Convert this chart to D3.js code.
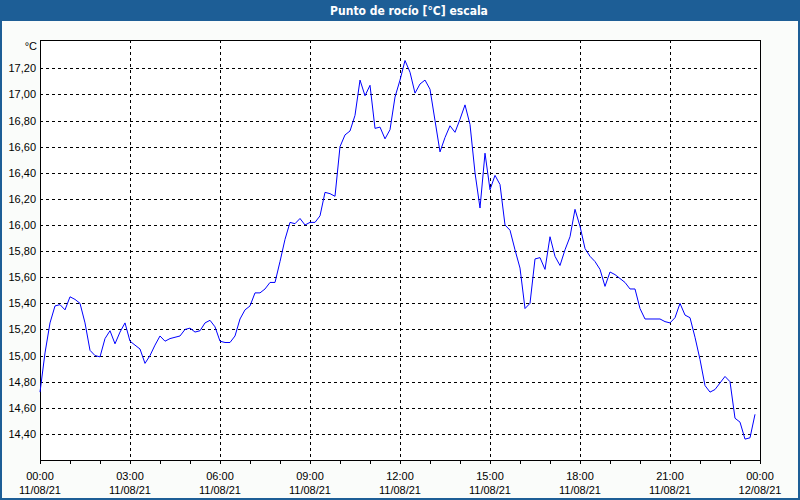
<!DOCTYPE html>
<html>
<head>
<meta charset="utf-8">
<script src="https://cdn.jsdelivr.net/npm/d3@7"></script>
<style>
  html, body { margin: 0; padding: 0; background: #fafcfa; }
  svg { display: block; }
</style>
</head>
<body>
<svg id="chart" width="800" height="500"></svg>
<script>
// ---- data ----
const title = "Punto de rocío [°C] escala";
const unitLabel = "°C";
const startMinute = 0;        // 00:00 11/08/21
const stepMinutes = 10;       // one reading every 10 minutes
const dewPoint = [
  14.72, 15.02, 15.25, 15.38, 15.39, 15.35, 15.45, 15.43, 15.40, 15.25,
  15.04, 15.00, 14.99, 15.13, 15.19, 15.09, 15.18, 15.25, 15.11, 15.08,
  15.05, 14.94, 15.00, 15.08, 15.15, 15.11, 15.13, 15.14, 15.15, 15.20,
  15.21, 15.18, 15.19, 15.25, 15.27, 15.22, 15.11, 15.10, 15.10, 15.15,
  15.28, 15.35, 15.38, 15.48, 15.48, 15.51, 15.56, 15.56, 15.72, 15.89,
  16.02, 16.01, 16.05, 16.00, 16.02, 16.02, 16.07, 16.25, 16.24, 16.22,
  16.60, 16.69, 16.72, 16.84, 17.11, 16.99, 17.07, 16.74, 16.75, 16.66,
  16.73, 16.98, 17.11, 17.26, 17.17, 17.01, 17.08, 17.11, 17.04, 16.80,
  16.56, 16.67, 16.76, 16.71, 16.81, 16.92, 16.77, 16.40, 16.13, 16.55,
  16.27, 16.38, 16.31, 16.00, 15.96, 15.81, 15.67, 15.36, 15.40, 15.74,
  15.75, 15.66, 15.91, 15.76, 15.69, 15.81, 15.91, 16.12, 15.99, 15.82,
  15.76, 15.72, 15.66, 15.53, 15.64, 15.62, 15.59, 15.56, 15.51, 15.51,
  15.36, 15.28, 15.28, 15.28, 15.28, 15.26, 15.25, 15.29, 15.40, 15.31,
  15.29, 15.14, 14.97, 14.77, 14.72, 14.74, 14.79, 14.84, 14.80, 14.52,
  14.49, 14.36, 14.37, 14.55
];
const yTicks = [14.4, 14.6, 14.8, 15.0, 15.2, 15.4, 15.6, 15.8, 16.0, 16.2, 16.4, 16.6, 16.8, 17.0, 17.2];
const xTickMinutes = [0, 180, 360, 540, 720, 900, 1080, 1260, 1440];
const xTickTimes = ["00:00", "03:00", "06:00", "09:00", "12:00", "15:00", "18:00", "21:00", "00:00"];
const xTickDates = ["11/08/21", "11/08/21", "11/08/21", "11/08/21", "11/08/21", "11/08/21", "11/08/21", "11/08/21", "12/08/21"];
const xMinorMinutes = d3.range(0, 1441, 60);
const yDomain = [14.2, 17.417];

// ---- layout ----
const W = 800, H = 500;
const plot = { left: 40, right: 760, top: 40, bottom: 460 };
const font = "'Liberation Sans', Arial, sans-serif";

const svg = d3.select("#chart");

// background + frame
svg.append("rect").attr("x", 0).attr("y", 0).attr("width", W).attr("height", H).attr("fill", "#fafcfa");
svg.append("rect").attr("x", 1).attr("y", 1).attr("width", W - 2).attr("height", H - 2)
  .attr("fill", "none").attr("stroke", "#1d5e96").attr("stroke-width", 2);
// title bar
svg.append("rect").attr("x", 0).attr("y", 0).attr("width", W).attr("height", 21).attr("fill", "#1d5e96");
svg.append("text").attr("x", 409).attr("y", 15).attr("text-anchor", "middle")
  .attr("fill", "#ffffff").attr("font-family", "'DejaVu Sans Condensed', 'Liberation Sans Narrow', sans-serif")
  .attr("font-weight", "bold").attr("font-size", 12).text(title);

// plot background
svg.append("rect").attr("x", plot.left).attr("y", plot.top)
  .attr("width", plot.right - plot.left).attr("height", plot.bottom - plot.top).attr("fill", "#ffffff");

const x = d3.scaleLinear().domain([0, 1440]).range([plot.left, plot.right]);
const y = d3.scaleLinear().domain(yDomain).range([plot.bottom, plot.top]);

const g = svg.append("g").attr("shape-rendering", "crispEdges");

// horizontal gridlines
g.selectAll(".hgrid").data(yTicks).enter().append("line")
  .attr("x1", plot.left).attr("x2", plot.right)
  .attr("y1", d => Math.round(y(d)) + 0.5).attr("y2", d => Math.round(y(d)) + 0.5)
  .attr("stroke", "#000").attr("stroke-width", 1).attr("stroke-dasharray", "3,3");

// vertical gridlines (interior major ticks)
g.selectAll(".vgrid").data(xTickMinutes.filter(m => m > 0 && m < 1440)).enter().append("line")
  .attr("x1", d => Math.round(x(d)) + 0.5).attr("x2", d => Math.round(x(d)) + 0.5)
  .attr("y1", plot.top).attr("y2", plot.bottom)
  .attr("stroke", "#000").attr("stroke-width", 1).attr("stroke-dasharray", "3,3");

// line
const line = d3.line()
  .x((d, i) => x(startMinute + i * stepMinutes))
  .y(d => y(d));
svg.append("path").datum(dewPoint)
  .attr("d", line).attr("fill", "none").attr("stroke", "#0000ff").attr("stroke-width", 1);

// plot border
g.append("rect").attr("x", plot.left + 0.5).attr("y", plot.top + 0.5)
  .attr("width", plot.right - plot.left).attr("height", plot.bottom - plot.top)
  .attr("fill", "none").attr("stroke", "#000").attr("stroke-width", 1);

// x minor/major ticks
g.selectAll(".xtick").data(xMinorMinutes).enter().append("line")
  .attr("x1", d => Math.round(x(d)) + 0.5).attr("x2", d => Math.round(x(d)) + 0.5)
  .attr("y1", plot.bottom).attr("y2", plot.bottom + 4)
  .attr("stroke", "#000").attr("stroke-width", 1);

// y labels
svg.selectAll(".ylab").data(yTicks).enter().append("text")
  .attr("x", 36).attr("y", d => y(d) + 4)
  .attr("text-anchor", "end").attr("font-family", font).attr("font-size", 11).attr("fill", "#000")
  .text(d => d3.format(".2f")(d).replace(".", ","));
svg.append("text").attr("x", 37).attr("y", 50).attr("text-anchor", "end")
  .attr("font-family", font).attr("font-size", 11).attr("fill", "#000").text(unitLabel);

// x labels
xTickMinutes.forEach((m, i) => {
  const t = svg.append("text").attr("x", x(m)).attr("text-anchor", "middle")
    .attr("font-family", font).attr("font-size", 11).attr("fill", "#000");
  t.append("tspan").attr("x", x(m)).attr("y", 480).text(xTickTimes[i]);
  t.append("tspan").attr("x", x(m)).attr("y", 494).text(xTickDates[i]);
});
</script>
</body>
</html>
